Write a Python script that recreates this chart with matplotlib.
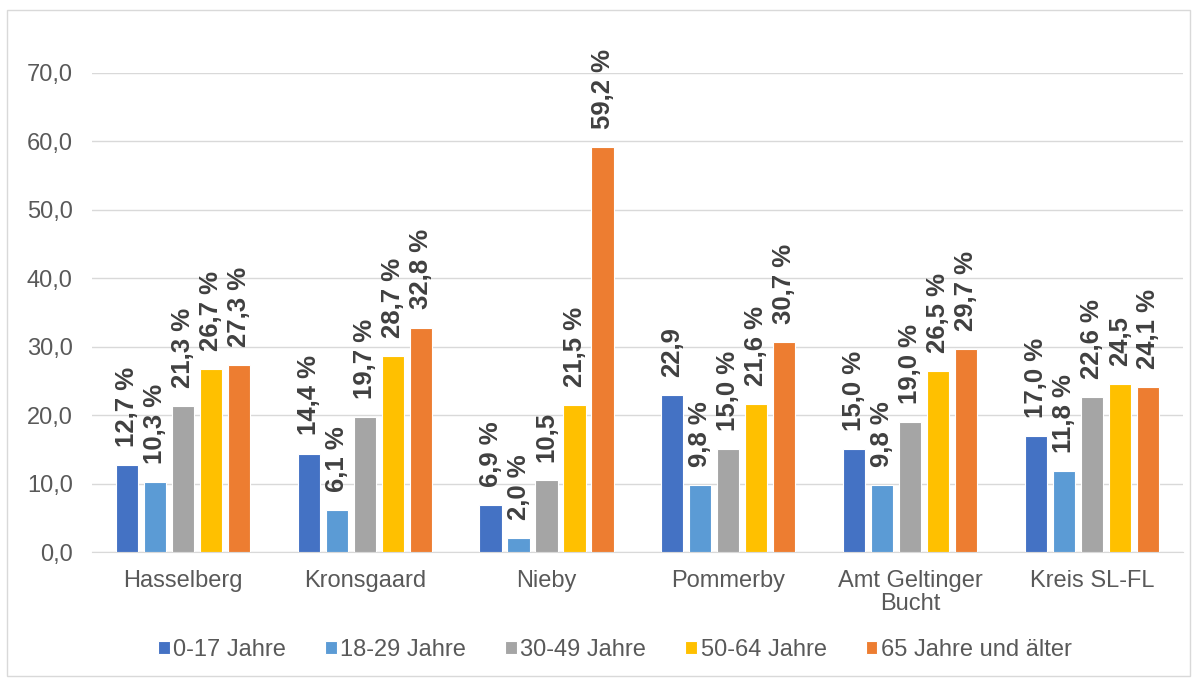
import numpy as np
import matplotlib.pyplot as plt
from matplotlib.patches import Rectangle

plt.rcParams['font.family'] = ['Liberation Sans', 'DejaVu Sans']

# Gemeinden und Altersgruppen
orte = ["Hasselberg", "Kronsgaard", "Nieby", "Pommerby", "Amt Geltinger\nBucht", "Kreis SL-FL"]
gruppen = ["0-17 Jahre", "18-29 Jahre", "30-49 Jahre", "50-64 Jahre", "65 Jahre und älter"]

# Anteile in Prozent je Altersgruppe
jahre_0_17 = [12.7, 14.4, 6.9, 22.9, 15.0, 17.0]
jahre_18_29 = [10.3, 6.1, 2.0, 9.8, 9.8, 11.8]
jahre_30_49 = [21.3, 19.7, 10.5, 15.0, 19.0, 22.6]
jahre_50_64 = [26.7, 28.7, 21.5, 21.6, 26.5, 24.5]
jahre_65_plus = [27.3, 32.8, 59.2, 30.7, 29.7, 24.1]

# Beschriftungen wie im Original (nicht alle mit %-Zeichen)
labels_0_17 = ["12,7 %", "14,4 %", "6,9 %", "22,9", "15,0 %", "17,0 %"]
labels_18_29 = ["10,3 %", "6,1 %", "2,0 %", "9,8 %", "9,8 %", "11,8 %"]
labels_30_49 = ["21,3 %", "19,7 %", "10,5", "15,0 %", "19,0 %", "22,6 %"]
labels_50_64 = ["26,7 %", "28,7 %", "21,5 %", "21,6 %", "26,5 %", "24,5"]
labels_65_plus = ["27,3 %", "32,8 %", "59,2 %", "30,7 %", "29,7 %", "24,1 %"]

werte = [jahre_0_17, jahre_18_29, jahre_30_49, jahre_50_64, jahre_65_plus]
beschriftung = [labels_0_17, labels_18_29, labels_30_49, labels_50_64, labels_65_plus]
farben = ["#4472C4", "#5B9BD5", "#A5A5A5", "#FFC000", "#ED7D31"]

fig = plt.figure(figsize=(11.96, 6.8), dpi=100)
ax = fig.add_axes([0.077, 0.188, 0.912, 0.705])

x = np.arange(len(orte))
schritt = 0.154
breite = 0.122

for i, (w, lab, f) in enumerate(zip(werte, beschriftung, farben)):
    pos = x + (i - 2) * schritt
    ax.bar(pos, w, width=breite, color=f, edgecolor="white", linewidth=0.8,
           label=gruppen[i], zorder=3)
    for px, v, t in zip(pos, w, lab):
        ax.annotate(t, (px, v), xytext=(0, 13), textcoords="offset points",
                    rotation=90, ha="center", va="bottom", fontsize=18.5,
                    fontweight="bold", color="#404040", annotation_clip=False)

ax.set_xlim(-0.5, len(orte) - 0.5)
ax.set_ylim(0, 70)
ax.set_yticks(np.arange(0, 71, 10))
ax.set_yticklabels([f"{v:.1f}".replace(".", ",") for v in np.arange(0, 71, 10)])
ax.set_xticks(x)
ax.set_xticklabels(orte, linespacing=1.05)
ax.tick_params(axis="both", length=0, labelsize=17, colors="#595959")
ax.tick_params(axis="y", pad=14)
ax.tick_params(axis="x", pad=13)
ax.grid(axis="y", color="#D9D9D9", linewidth=1, zorder=0)
for s in ["top", "right", "left"]:
    ax.spines[s].set_visible(False)
ax.spines["bottom"].set_color("#D9D9D9")

fig.legend(loc="center", bbox_to_anchor=(0.514, 0.044), ncol=5, frameon=False,
           fontsize=17, handlelength=0.5, handleheight=0.5, handletextpad=0.15,
           columnspacing=1.65, labelcolor="#595959")

# Rahmen um das Diagramm
fig.patches.append(Rectangle((0.006, 0.006), 0.989, 0.979, transform=fig.transFigure,
                             fill=False, edgecolor="#D9D9D9", linewidth=1))

fig.savefig("out.png", dpi=100)
